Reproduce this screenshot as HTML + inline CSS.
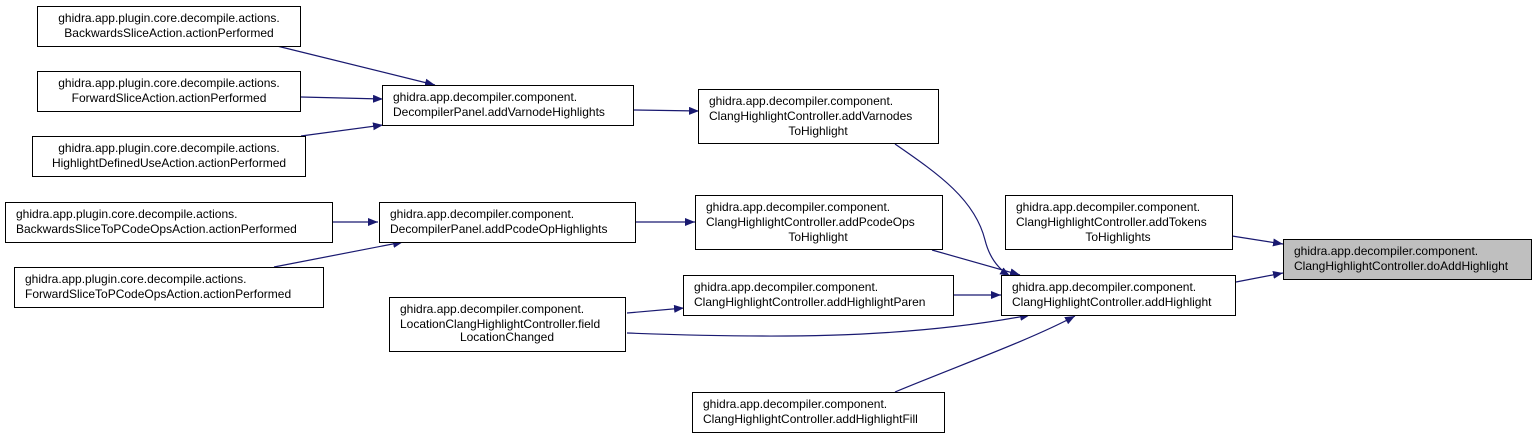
<!DOCTYPE html>
<html><head><meta charset="utf-8"><style>
html,body{margin:0;padding:0;background:#fff;}
svg{display:block;}
text{font-family:"Liberation Sans",Arial,sans-serif;font-size:12px;fill:#000;}
</style></head><body>
<svg width="1540" height="439" viewBox="0 0 1540 439" xmlns="http://www.w3.org/2000/svg">
<defs>
<marker id="a" markerWidth="10" markerHeight="8" refX="10" refY="4" orient="auto" markerUnits="userSpaceOnUse">
<path d="M0,0 L10,4 L0,8 Z" fill="#191970"/>
</marker>
</defs>
<g stroke="#191970" stroke-width="1.2" fill="none" marker-end="url(#a)">
<path d="M277,46 L435,85"/>
<path d="M301,97 L383,99"/>
<path d="M301,136 L383,125"/>
<path d="M634,110 L699,111"/>
<path d="M333,222 L378,222"/>
<path d="M274,267 L403,242"/>
<path d="M626,222 L695,222"/>
<path d="M627,313 L684,308"/>
<path d="M627,333 C760,338 900,340 1030,315"/>
<path d="M895,144 C940,175 975,200 985,240 C990,260 1000,270 1010,276"/>
<path d="M932,250 L1020,275"/>
<path d="M954,295 L1001,295"/>
<path d="M895,392 C960,365 1030,340 1075,316"/>
<path d="M1232,236 L1283,244"/>
<path d="M1236,282 L1283,273"/>
</g>
<g stroke="#000" stroke-width="1" fill="#fff">
<rect x="37.5" y="6.5" width="263" height="40"/>
<rect x="37.5" y="71.5" width="263" height="40"/>
<rect x="32.5" y="136.5" width="273" height="40"/>
<rect x="5.5" y="202.5" width="327" height="40"/>
<rect x="14.5" y="267.5" width="309" height="40"/>
<rect x="382.5" y="85.5" width="251" height="40"/>
<rect x="379.5" y="202.5" width="256" height="40"/>
<rect x="389.5" y="297.5" width="236" height="54"/>
<rect x="698.5" y="89.5" width="240" height="54"/>
<rect x="695.5" y="195.5" width="247" height="54"/>
<rect x="683.5" y="275.5" width="270" height="40"/>
<rect x="692.5" y="392.5" width="252" height="40"/>
<rect x="1005.5" y="195.5" width="227" height="54"/>
<rect x="1001.5" y="275.5" width="234" height="40"/>
<rect x="1283.5" y="239.5" width="248" height="40" fill="#bfbfbf"/>
</g>
<g text-anchor="middle">
<text x="169" y="22">ghidra.app.plugin.core.decompile.actions.</text>
<text x="169" y="37">BackwardsSliceAction.actionPerformed</text>
<text x="169" y="87">ghidra.app.plugin.core.decompile.actions.</text>
<text x="169" y="102">ForwardSliceAction.actionPerformed</text>
<text x="169" y="152">ghidra.app.plugin.core.decompile.actions.</text>
<text x="169" y="167">HighlightDefinedUseAction.actionPerformed</text>
<text x="507" y="341">LocationChanged</text>
<text x="818" y="135">ToHighlight</text>
<text x="818" y="241">ToHighlight</text>
<text x="1118" y="241">ToHighlights</text>
</g>
<g>
<text x="16" y="218">ghidra.app.plugin.core.decompile.actions.</text>
<text x="16" y="233">BackwardsSliceToPCodeOpsAction.actionPerformed</text>
<text x="25" y="283">ghidra.app.plugin.core.decompile.actions.</text>
<text x="25" y="298">ForwardSliceToPCodeOpsAction.actionPerformed</text>
<text x="393" y="101">ghidra.app.decompiler.component.</text>
<text x="393" y="116">DecompilerPanel.addVarnodeHighlights</text>
<text x="390" y="218">ghidra.app.decompiler.component.</text>
<text x="390" y="233">DecompilerPanel.addPcodeOpHighlights</text>
<text x="400" y="313">ghidra.app.decompiler.component.</text>
<text x="400" y="328">LocationClangHighlightController.field</text>
<text x="709" y="105">ghidra.app.decompiler.component.</text>
<text x="709" y="120">ClangHighlightController.addVarnodes</text>
<text x="706" y="211">ghidra.app.decompiler.component.</text>
<text x="706" y="226">ClangHighlightController.addPcodeOps</text>
<text x="694" y="291">ghidra.app.decompiler.component.</text>
<text x="694" y="306">ClangHighlightController.addHighlightParen</text>
<text x="703" y="408">ghidra.app.decompiler.component.</text>
<text x="703" y="423">ClangHighlightController.addHighlightFill</text>
<text x="1016" y="211">ghidra.app.decompiler.component.</text>
<text x="1016" y="226">ClangHighlightController.addTokens</text>
<text x="1012" y="291">ghidra.app.decompiler.component.</text>
<text x="1012" y="306">ClangHighlightController.addHighlight</text>
<text x="1294" y="255">ghidra.app.decompiler.component.</text>
<text x="1294" y="270">ClangHighlightController.doAddHighlight</text>
</g>
</svg>
</body></html>
